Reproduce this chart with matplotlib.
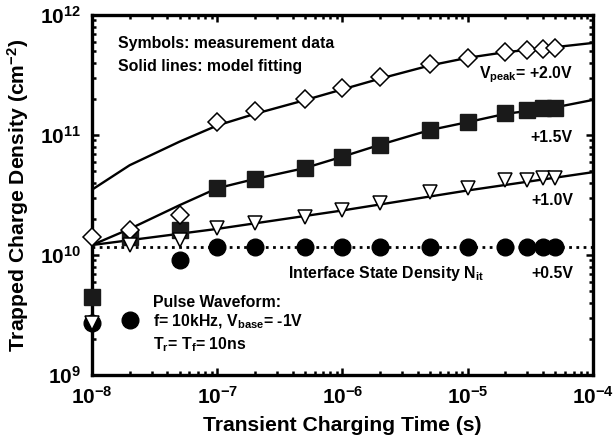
import matplotlib
matplotlib.use('Agg')
import matplotlib.pyplot as plt
from matplotlib.ticker import LogLocator, NullFormatter

plt.rcParams['font.family'] = ['Liberation Sans', 'DejaVu Sans']
plt.rcParams['font.weight'] = 'bold'
plt.rcParams['mathtext.fontset'] = 'custom'
plt.rcParams['mathtext.rm'] = 'Liberation Sans:bold'
plt.rcParams['mathtext.it'] = 'Liberation Sans:bold'
plt.rcParams['mathtext.bf'] = 'Liberation Sans:bold'
plt.rcParams['mathtext.default'] = 'regular'


t_meas = [1e-8, 2e-8, 5e-8, 1e-7, 2e-7, 5e-7, 1e-6, 2e-6, 5e-6, 1e-5, 2e-5, 3e-5, 4e-5, 5e-5]
n_20 = [1.41e10, 1.62e10, 2.15e10, 1.28e11, 1.58e11, 2.0e11, 2.46e11, 3.05e11, 3.9e11,
        4.4e11, 4.9e11, 5.1e11, 5.2e11, 5.3e11]
n_15 = [4.5e9, 1.41e10, 1.62e10, 3.6e10, 4.3e10, 5.3e10, 6.6e10, 8.3e10, 1.1e11,
        1.28e11, 1.52e11, 1.62e11, 1.68e11, 1.68e11]
n_10 = [2.7e9, 1.2e10, 1.33e10, 1.68e10, 1.85e10, 2.07e10, 2.37e10, 2.7e10, 3.35e10,
        3.6e10, 4.2e10, 4.2e10, 4.4e10, 4.4e10]
t_05 = [1e-8, 5e-8, 1e-7, 2e-7, 5e-7, 1e-6, 2e-6, 5e-6, 1e-5, 2e-5, 3e-5, 4e-5, 5e-5]
n_05 = [2.7e9, 9.1e9, 1.17e10, 1.17e10, 1.17e10, 1.17e10, 1.17e10, 1.17e10, 1.17e10,
        1.17e10, 1.17e10, 1.17e10, 1.17e10]

# Model fitting curves
t_fit = [1e-8, 2e-8, 5e-8, 1e-7, 2e-7, 5e-7, 1e-6, 2e-6, 5e-6, 1e-5, 2e-5, 5e-5, 1e-4]
fit_20 = [3.5e10, 5.6e10, 8.8e10, 1.2e11, 1.5e11, 1.95e11, 2.4e11, 2.95e11, 3.8e11,
          4.4e11, 4.9e11, 5.4e11, 5.85e11]
fit_15 = [1.21e10, 1.65e10, 2.6e10, 3.6e10, 4.3e10, 5.3e10, 6.6e10, 8.3e10, 1.1e11,
          1.28e11, 1.5e11, 1.7e11, 1.96e11]
t_fit10 = [1e-8, 1e-7, 1e-6, 1e-5, 1e-4]
fit_10 = [1.21e10, 1.65e10, 2.35e10, 3.45e10, 4.9e10]
t_nit = [1e-8, 1e-4]
nit = [1.17e10, 1.17e10]


fig = plt.figure(figsize=(6.15, 4.41), dpi=100)
ax = fig.add_axes([0.1496, 0.1497, 0.8146, 0.8163])

ax.plot(t_fit, fit_20, color='black', lw=1.7)
ax.plot(t_fit, fit_15, color='black', lw=1.7)
ax.plot(t_fit10, fit_10, color='black', lw=1.7)
ax.plot(t_nit, nit, color='black', lw=2.0, ls=(0, (1, 1.6)))

ax.plot(t_meas, n_20, 'D', ms=9.5, mfc='white', mec='black', mew=1.1, clip_on=False, zorder=4)
ax.plot(t_meas, n_15, 's', ms=11.5, mfc='#1a1a1a', mec='#1a1a1a', mew=1, clip_on=False, zorder=3)
ax.plot(t_meas, n_10, 'v', ms=10.5, mfc='white', mec='black', mew=1.1, clip_on=False, zorder=4)
ax.plot(t_05, n_05, 'o', ms=12, mfc='black', mec='black', clip_on=False, zorder=3)

ax.set_xscale('log')
ax.set_yscale('log')
ax.set_xlim(1e-8, 1e-4)
ax.set_ylim(1e9, 1e12)

ax.set_xticks([1e-8, 1e-7, 1e-6, 1e-5, 1e-4])
ax.set_xticklabels(['$10^{-8}$', '$10^{-7}$', '$10^{-6}$', '$10^{-5}$', '$10^{-4}$'])
ax.set_yticks([1e9, 1e10, 1e11, 1e12])
ax.set_yticklabels(['$10^{9}$', '$10^{10}$', '$10^{11}$', '$10^{12}$'])
ax.xaxis.set_minor_locator(LogLocator(base=10, subs=range(2, 10)))
ax.yaxis.set_minor_locator(LogLocator(base=10, subs=range(2, 10)))
ax.xaxis.set_minor_formatter(NullFormatter())
ax.yaxis.set_minor_formatter(NullFormatter())
ax.tick_params(which='both', direction='in', top=True, right=True, width=1.8)
ax.tick_params(which='major', length=5, labelsize=15, pad=8)
ax.tick_params(which='minor', length=3)
for sp in ax.spines.values():
    sp.set_linewidth(2.4)

ax.set_xlabel('Transient Charging Time (s)', fontsize=15.2, fontweight='bold', labelpad=6)
ax.set_ylabel('Trapped Charge Density (cm$^{-2}$)', fontsize=15.2, fontweight='bold', labelpad=6)

# Annotations
tk = dict(transform=ax.transAxes, fontsize=11.4, fontweight='bold', va='center')
ax.text(0.052, 0.92, 'Symbols: measurement data', **tk)
ax.text(0.052, 0.858, 'Solid lines: model fitting', **tk)
ax.text(0.96, 0.833, 'V$_{peak}$= +2.0V', ha='right', **tk)
ax.text(0.96, 0.66, '+1.5V', ha='right', **tk)
ax.text(0.96, 0.486, '+1.0V', ha='right', **tk)
ax.text(0.392, 0.283, 'Interface State Density N$_{it}$', **tk)
ax.text(0.96, 0.283, '+0.5V', ha='right', **tk)
ax.text(0.122, 0.2, 'Pulse Waveform:', **tk)
ax.text(0.122, 0.147, 'f= 10kHz, V$_{base}$= -1V', **tk)
ax.text(0.122, 0.083, 'T$_{r}$= T$_{f}$= 10ns', **tk)
ax.plot([0.076], [0.153], 'o', ms=12, color='black', transform=ax.transAxes, clip_on=False)

fig.savefig('out.png', dpi=100)
